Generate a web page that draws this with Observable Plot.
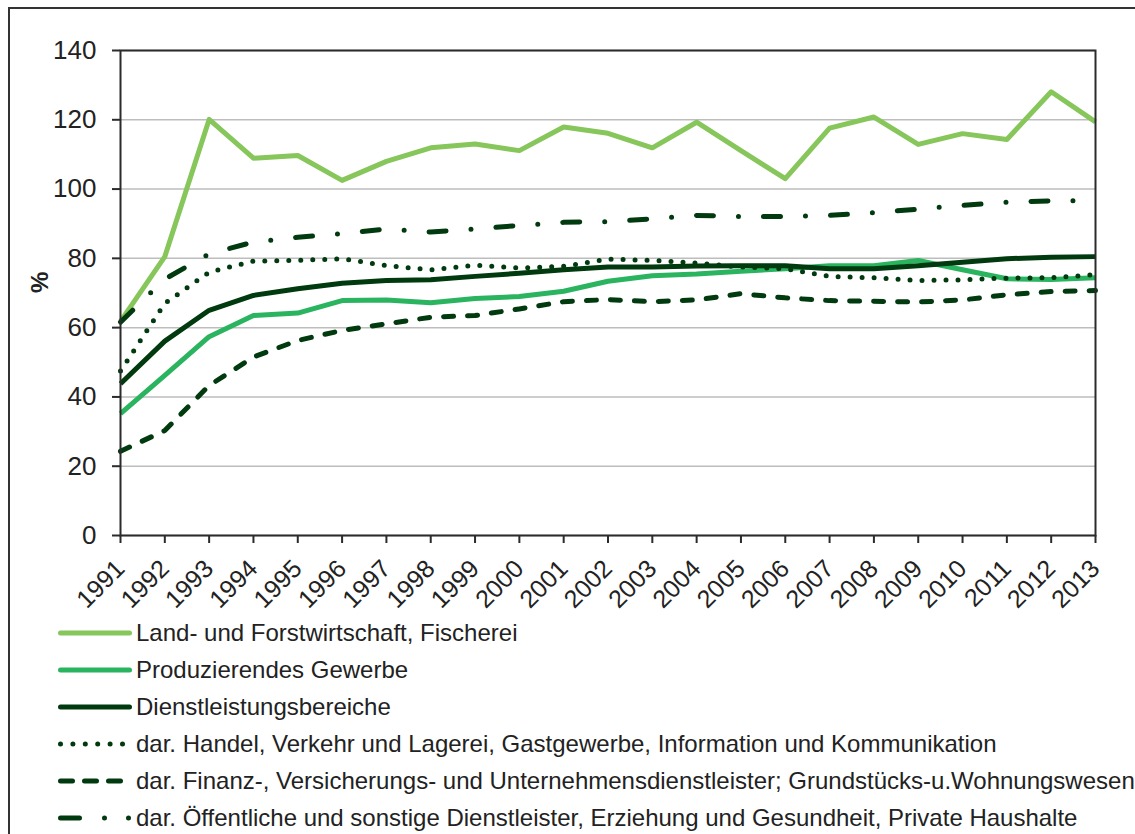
<!DOCTYPE html>
<html><head><meta charset="utf-8">
<script src="https://cdn.jsdelivr.net/npm/d3@7"></script>
<script src="https://cdn.jsdelivr.net/npm/@observablehq/plot@0.6"></script>
<style>
body{margin:0;background:#fff;font-family:"Liberation Sans",Arial,sans-serif;}
#wrap{position:relative;width:1135px;height:834px;overflow:hidden;background:#fff;}
#border{position:absolute;left:8px;top:7px;width:1200px;height:900px;border:2px solid #333;box-sizing:border-box;}
#chart{position:absolute;left:0;top:0;}
#legend{position:absolute;left:56px;top:614px;}
.item{display:flex;align-items:center;height:37px;font-size:24px;color:#222;white-space:nowrap;}
.item svg{margin-right:4px;flex:none;}
</style></head>
<body>
<div id="wrap"><div id="border"></div><div id="chart"></div><div id="legend"></div></div>
<script>
const years = [1991,1992,1993,1994,1995,1996,1997,1998,1999,2000,2001,2002,2003,2004,2005,2006,2007,2008,2009,2010,2011,2012,2013];
const seriesNames = [
  "Land- und Forstwirtschaft, Fischerei",
  "Produzierendes Gewerbe",
  "Dienstleistungsbereiche",
  "dar. Handel, Verkehr und Lagerei, Gastgewerbe, Information und Kommunikation",
  "dar. Finanz-, Versicherungs- und Unternehmensdienstleister; Grundstücks-u.Wohnungswesen",
  "dar. Öffentliche und sonstige Dienstleister, Erziehung und Gesundheit, Private Haushalte"
];
const landwirtschaft = [61.8,80.5,120.1,108.9,109.7,102.5,108.0,111.9,113.0,111.1,117.9,116.1,111.9,119.3,111.1,103.0,117.6,120.8,112.9,116.0,114.3,128.1,119.4];
const produzierend   = [35.2,46.2,57.4,63.5,64.2,67.8,68.0,67.2,68.4,69.0,70.5,73.4,75.0,75.5,76.3,77.0,77.9,77.9,79.4,76.7,74.1,73.9,74.4];
const dienstleistung = [43.8,56.1,65.0,69.3,71.2,72.8,73.6,73.8,74.8,75.7,76.7,77.5,77.5,77.8,77.9,77.9,77.0,77.0,77.9,78.9,79.9,80.3,80.5];
const handel         = [47.5,67.0,76.0,79.2,79.4,79.9,77.9,76.7,78.0,77.2,77.7,79.8,79.4,78.6,77.5,77.0,74.8,74.4,73.6,73.8,74.3,74.4,75.3];
const finanz         = [24.3,30.3,43.3,51.5,56.3,59.2,61.1,63.0,63.5,65.4,67.5,68.1,67.5,68.0,69.8,68.6,67.8,67.6,67.4,68.0,69.5,70.4,70.7];
const oeffentlich    = [61.6,74.0,81.3,84.7,86.1,87.1,88.5,87.6,88.5,89.5,90.4,90.6,91.4,92.4,92.1,92.1,92.4,93.2,94.2,95.3,96.2,96.6,96.7];
const yTicks = [0,20,40,60,80,100,120,140];

const values = [landwirtschaft, produzierend, dienstleistung, handel, finanz, oeffentlich];
const styles = [
  {stroke:"#86C65A", dash:null, cap:"butt", legendDash:null},
  {stroke:"#2AB45F", dash:null, cap:"butt", legendDash:null},
  {stroke:"#003A0E", dash:null, cap:"butt", legendDash:null},
  {stroke:"#003A0E", dash:"0,12", cap:"round", legendDash:"0,12.4"},
  {stroke:"#003A0E", dash:"10,14", cap:"round", legendDash:"12,12"},
  {stroke:"#003A0E", dash:"17,25,0,25", cap:"round", legendDash:"19,25,0,24,0,100"}
];
const table = seriesNames.flatMap((s,i)=>years.map((y,j)=>({series:s, year:y, value:values[i][j]})));

const lineMarks = seriesNames.map((s,i)=>Plot.line(table.filter(d=>d.series===s),{
  x:"year", y:"value", stroke:styles[i].stroke, strokeWidth:5,
  strokeDasharray:styles[i].dash ?? undefined, strokeLinecap:styles[i].cap, strokeLinejoin:"round"
}));

const chart = Plot.plot({
  width:1135, height:620,
  marginTop:50, marginBottom:85, marginLeft:120, marginRight:40,
  style:{fontFamily:"'Liberation Sans', Arial, sans-serif", fontSize:"25px", color:"#222", background:"transparent"},
  x:{domain:[1991,2013], ticks:years, tickFormat:d=>String(d)},
  y:{domain:[0,140], ticks:yTicks},
  marks:[
    Plot.gridY(yTicks,{stroke:"#BDBDBD", strokeOpacity:1, strokeWidth:1.5}),
    ...lineMarks,
    Plot.frame({stroke:"#2b2b2b", strokeWidth:2}),
    Plot.axisY(yTicks,{tickSize:8, tickPadding:16, stroke:"#2b2b2b", strokeWidth:2, label:null, fontSize:26}),
    Plot.axisX(years,{tickSize:8, tickPadding:21, tickRotate:-45, stroke:"#2b2b2b", strokeWidth:2, label:null, fontSize:25, tickFormat:d=>String(d)}),
    Plot.text(["%"],{frameAnchor:"left", dx:-80, rotate:-90, fontWeight:"bold", fontSize:24, fill:"#222"})
  ]
});
document.getElementById("chart").append(chart);

const legend = document.getElementById("legend");
seriesNames.forEach((s,i)=>{
  const st = styles[i];
  const div = document.createElement("div");
  div.className = "item";
  div.innerHTML = `<svg width="76" height="12"><line x1="4.5" y1="6" x2="73.5" y2="6" stroke="${st.stroke}" stroke-width="5" stroke-linecap="round" ${st.legendDash?`stroke-dasharray="${st.legendDash}"`:""}/></svg><span>${s}</span>`;
  legend.append(div);
});
</script>
</body></html>
